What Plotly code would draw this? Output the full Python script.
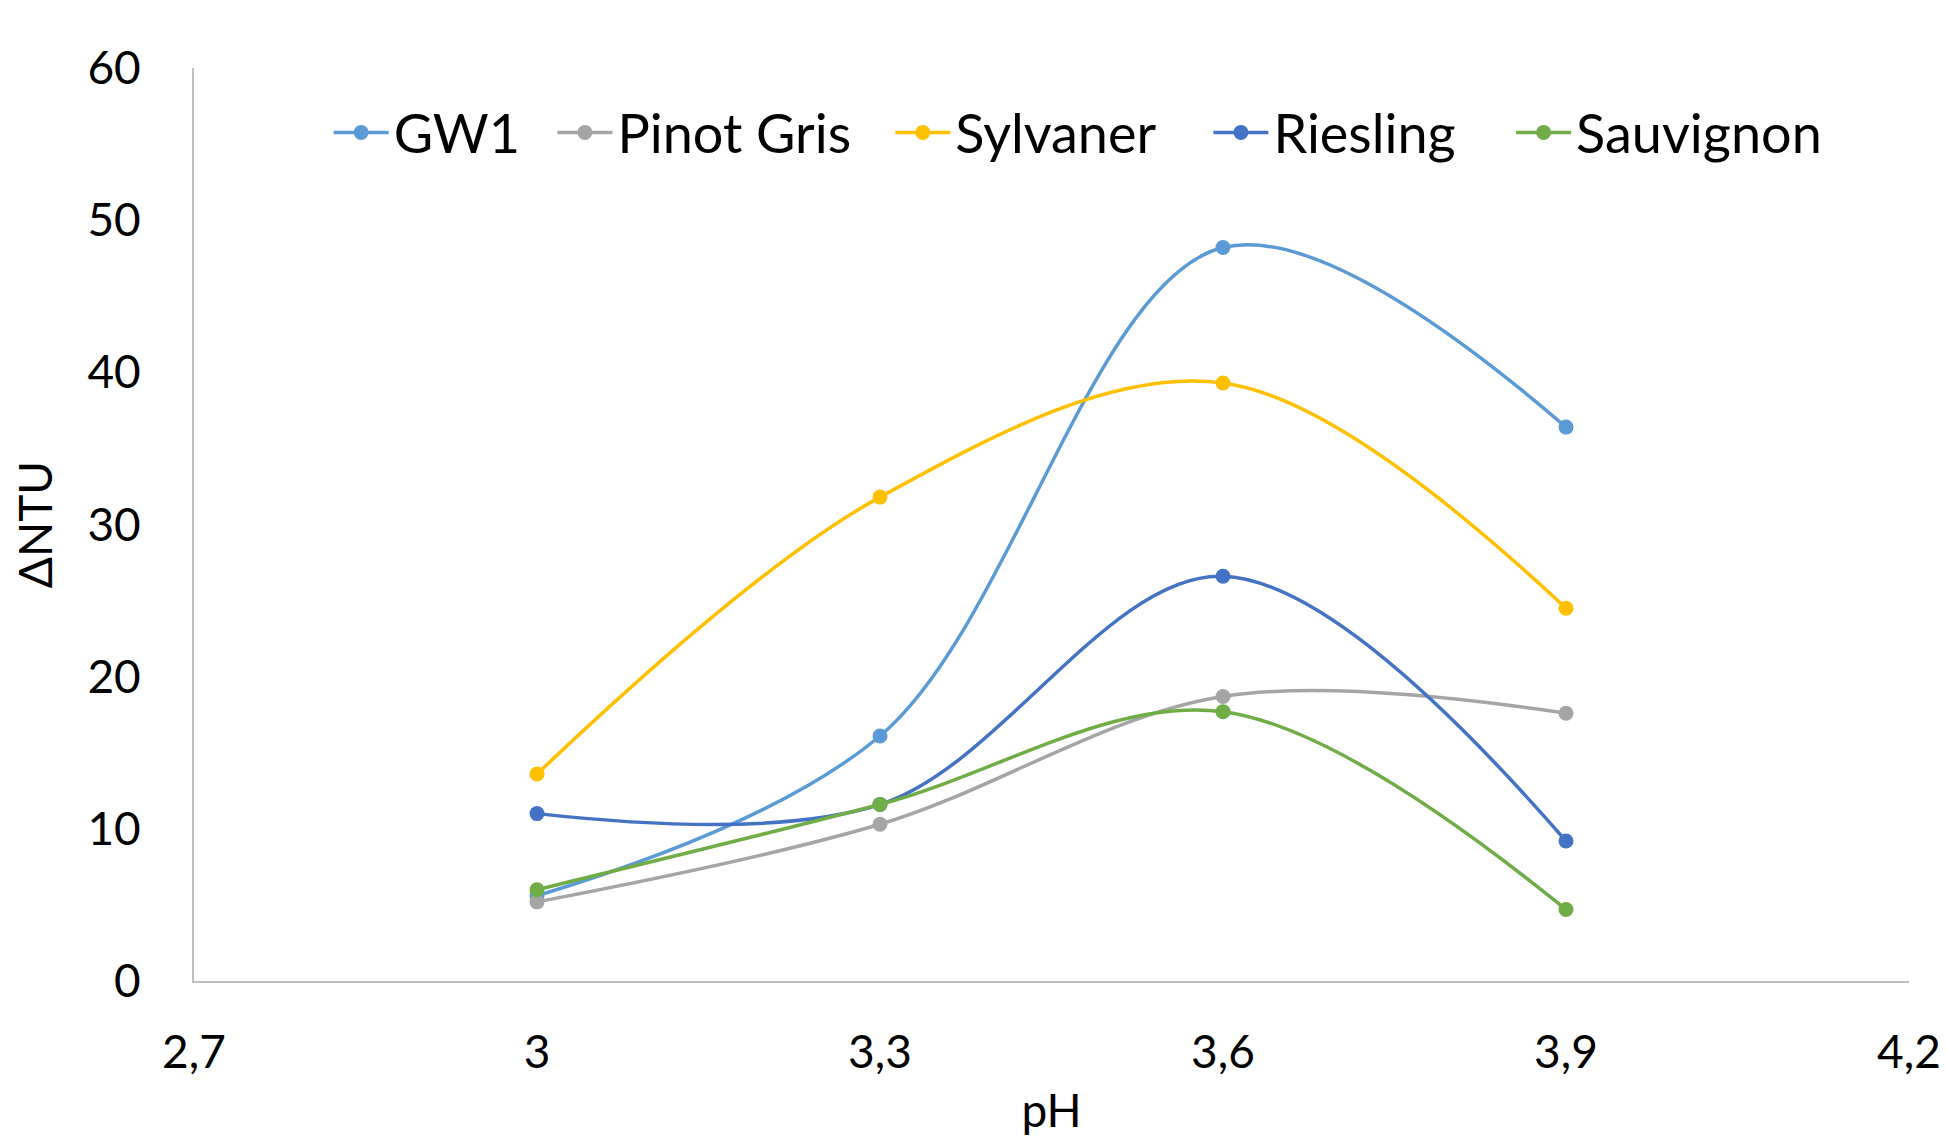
import plotly.graph_objects as go

ph = [3.0, 3.3, 3.6, 3.9]
gw1 = [5.6, 16.1, 48.2, 36.4]
pinot_gris = [5.2, 10.3, 18.7, 17.6]
sylvaner = [13.6, 31.8, 39.3, 24.5]
riesling = [11.0, 11.6, 26.6, 9.2]
sauvignon = [6.0, 11.6, 17.7, 4.7]

series_names = ["GW1", "Pinot Gris", "Sylvaner", "Riesling", "Sauvignon"]
series_values = [gw1, pinot_gris, sylvaner, riesling, sauvignon]
colors = ["#5B9BD5", "#A5A5A5", "#FFC000", "#4472C4", "#70AD47"]

x_tickvals = [2.7, 3.0, 3.3, 3.6, 3.9, 4.2]
x_ticktext = ["2,7", "3", "3,3", "3,6", "3,9", "4,2"]
y_tickvals = [0, 10, 20, 30, 40, 50, 60]

FONT = "Lato, 'Open Sans', sans-serif"

# per-entry legend x positions (paper coords)
legend_x = [0.0785, 0.2090, 0.4060, 0.5915, 0.7680]
legend_ids = ["legend", "legend2", "legend3", "legend4", "legend5"]

fig = go.Figure()
for name, vals, c, lid in zip(series_names, series_values, colors, legend_ids):
    fig.add_trace(go.Scatter(
        x=ph, y=vals, name=name, mode="lines+markers",
        line=dict(color=c, width=3.5, shape="spline", smoothing=1.0),
        marker=dict(color=c, size=15),
        legend=lid,
    ))

legend_common = dict(
    orientation="h", y=0.929, yanchor="middle", xanchor="left",
    font=dict(size=54, family=FONT, color="#000000"),
    bgcolor="rgba(0,0,0,0)", itemwidth=55, borderwidth=0,
)

layout_legends = {}
for lid, lx in zip(legend_ids, legend_x):
    d = dict(legend_common)
    d["x"] = lx
    layout_legends[lid] = d

fig.update_layout(
    width=1948, height=1142,
    paper_bgcolor="white", plot_bgcolor="white",
    margin=dict(l=194, r=39, t=68, b=161),
    font=dict(family=FONT, color="#000000", size=46),
    showlegend=True,
    xaxis=dict(
        range=[2.7, 4.2], tickvals=x_tickvals, ticktext=x_ticktext,
        showgrid=False, zeroline=False, automargin=False,
        showline=True, linecolor="#BFBFBF", linewidth=2,
        ticks="", ticklabelstandoff=30,
        tickfont=dict(size=46),
        title=dict(text="pH", font=dict(size=46), standoff=18),
    ),
    yaxis=dict(
        range=[0, 60], tickvals=y_tickvals,
        showgrid=False, zeroline=False, automargin=False,
        showline=True, linecolor="#BFBFBF", linewidth=2,
        ticks="", ticklabelstandoff=42,
        tickfont=dict(size=46),
        title=dict(text="ΔNTU", font=dict(size=46), standoff=20),
    ),
    **layout_legends,
)

fig.write_html("out.html")
